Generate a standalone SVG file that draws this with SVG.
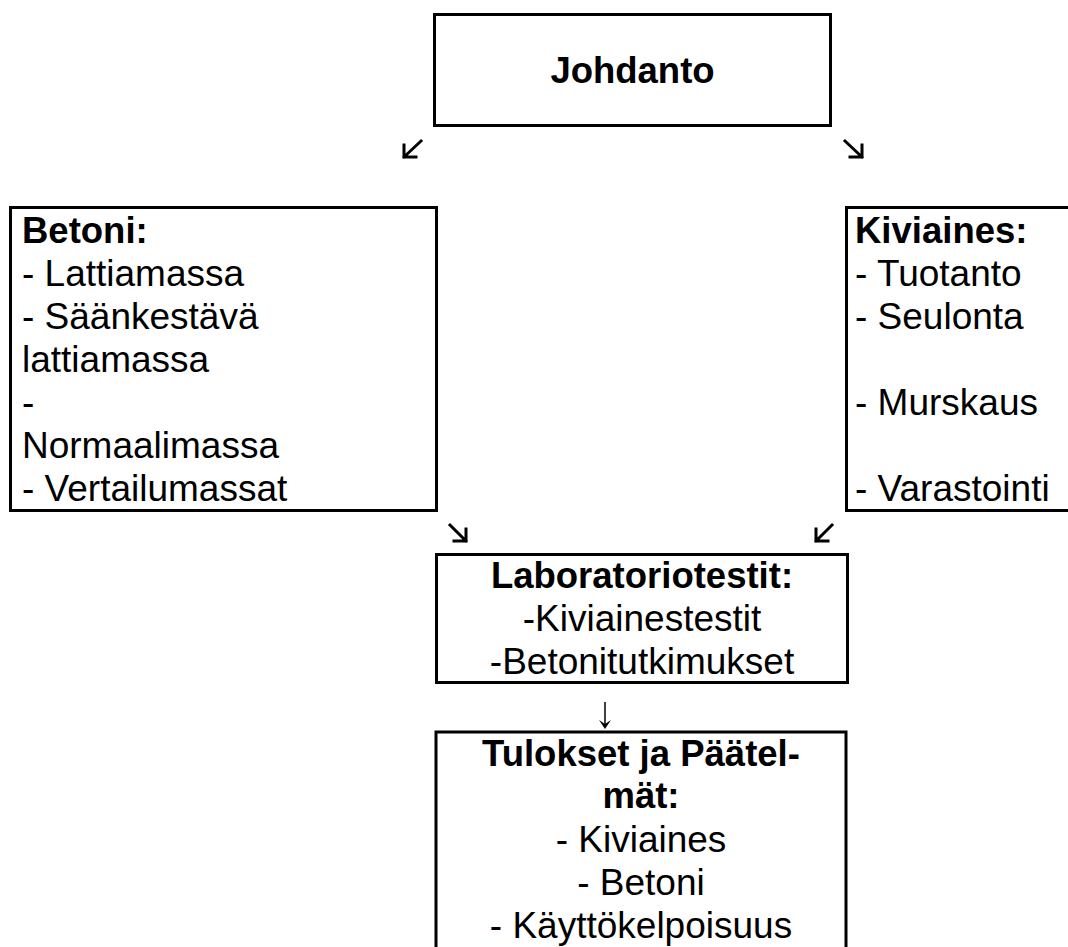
<svg xmlns="http://www.w3.org/2000/svg" width="1068" height="947" viewBox="0 0 1068 947">
<style>
.box{fill:#fff;stroke:#000;stroke-width:3}
.t{font-family:"Liberation Sans",Arial,sans-serif;font-size:37px;fill:#000}
.b{font-family:"Liberation Sans",Arial,sans-serif;font-size:36.5px;font-weight:bold;fill:#000}
.c{text-anchor:middle}
.arr{fill:none;stroke:#000;stroke-width:3;stroke-linecap:square}
.thin{fill:none;stroke:#000;stroke-width:1.5}
</style>
<rect width="1068" height="947" fill="#fff"/>
<g id="johdanto">
<rect class="box" x="434.5" y="14.5" width="396" height="111"/>
<text class="b c" x="632.5" y="83">Johdanto</text>
</g>
<g id="betoni">
<rect class="box" x="10.5" y="207.5" width="426" height="303"/>
<text class="b" x="22" y="243">Betoni:</text>
<text class="t" x="22" y="286">- Lattiamassa</text>
<text class="t" x="22" y="329">- Säänkestävä</text>
<text class="t" x="22" y="372">lattiamassa</text>
<text class="t" x="22" y="415">-</text>
<text class="t" x="22" y="458">Normaalimassa</text>
<text class="t" x="22" y="501">- Vertailumassat</text>
</g>
<g id="kiviaines">
<rect class="box" x="846.5" y="207.5" width="240" height="303"/>
<text class="b" x="855" y="243">Kiviaines:</text>
<text class="t" x="855" y="286">- Tuotanto</text>
<text class="t" x="855" y="329">- Seulonta</text>
<text class="t" x="855" y="415">- Murskaus</text>
<text class="t" x="855" y="501">- Varastointi</text>
</g>
<g id="laboratoriotestit">
<rect class="box" x="436.5" y="554.5" width="411" height="128"/>
<text class="b c" x="642" y="588">Laboratoriotestit:</text>
<text class="t c" x="642" y="631">-Kiviainestestit</text>
<text class="t c" x="642" y="674">-Betonitutkimukset</text>
</g>
<g id="tulokset">
<rect class="box" x="436" y="732" width="410" height="240"/>
<text class="b c" x="641" y="766">Tulokset ja Päätel-</text>
<text class="b c" x="641" y="808">mät:</text>
<text class="t c" x="641" y="852">- Kiviaines</text>
<text class="t c" x="641" y="895">- Betoni</text>
<text class="t c" x="641" y="938">- Käyttökelpoisuus</text>
</g>
<g id="connectors">
<path class="arr" d="M421,141 L404,157 M404,145 L404,157 L416,157"/>
<path class="arr" d="M845,141 L862,157 M862,145 L862,157 L850,157"/>
<path class="arr" d="M450,525 L466,541 M466,529 L466,541 L454,541"/>
<path class="arr" d="M832,525 L816,541 M816,529 L816,541 L828,541"/>
<path class="thin" d="M605,702 L605,727"/>
<path d="M599,720 L605,729 L611,720 L605,724 Z" fill="#000"/>
</g>
</svg>
